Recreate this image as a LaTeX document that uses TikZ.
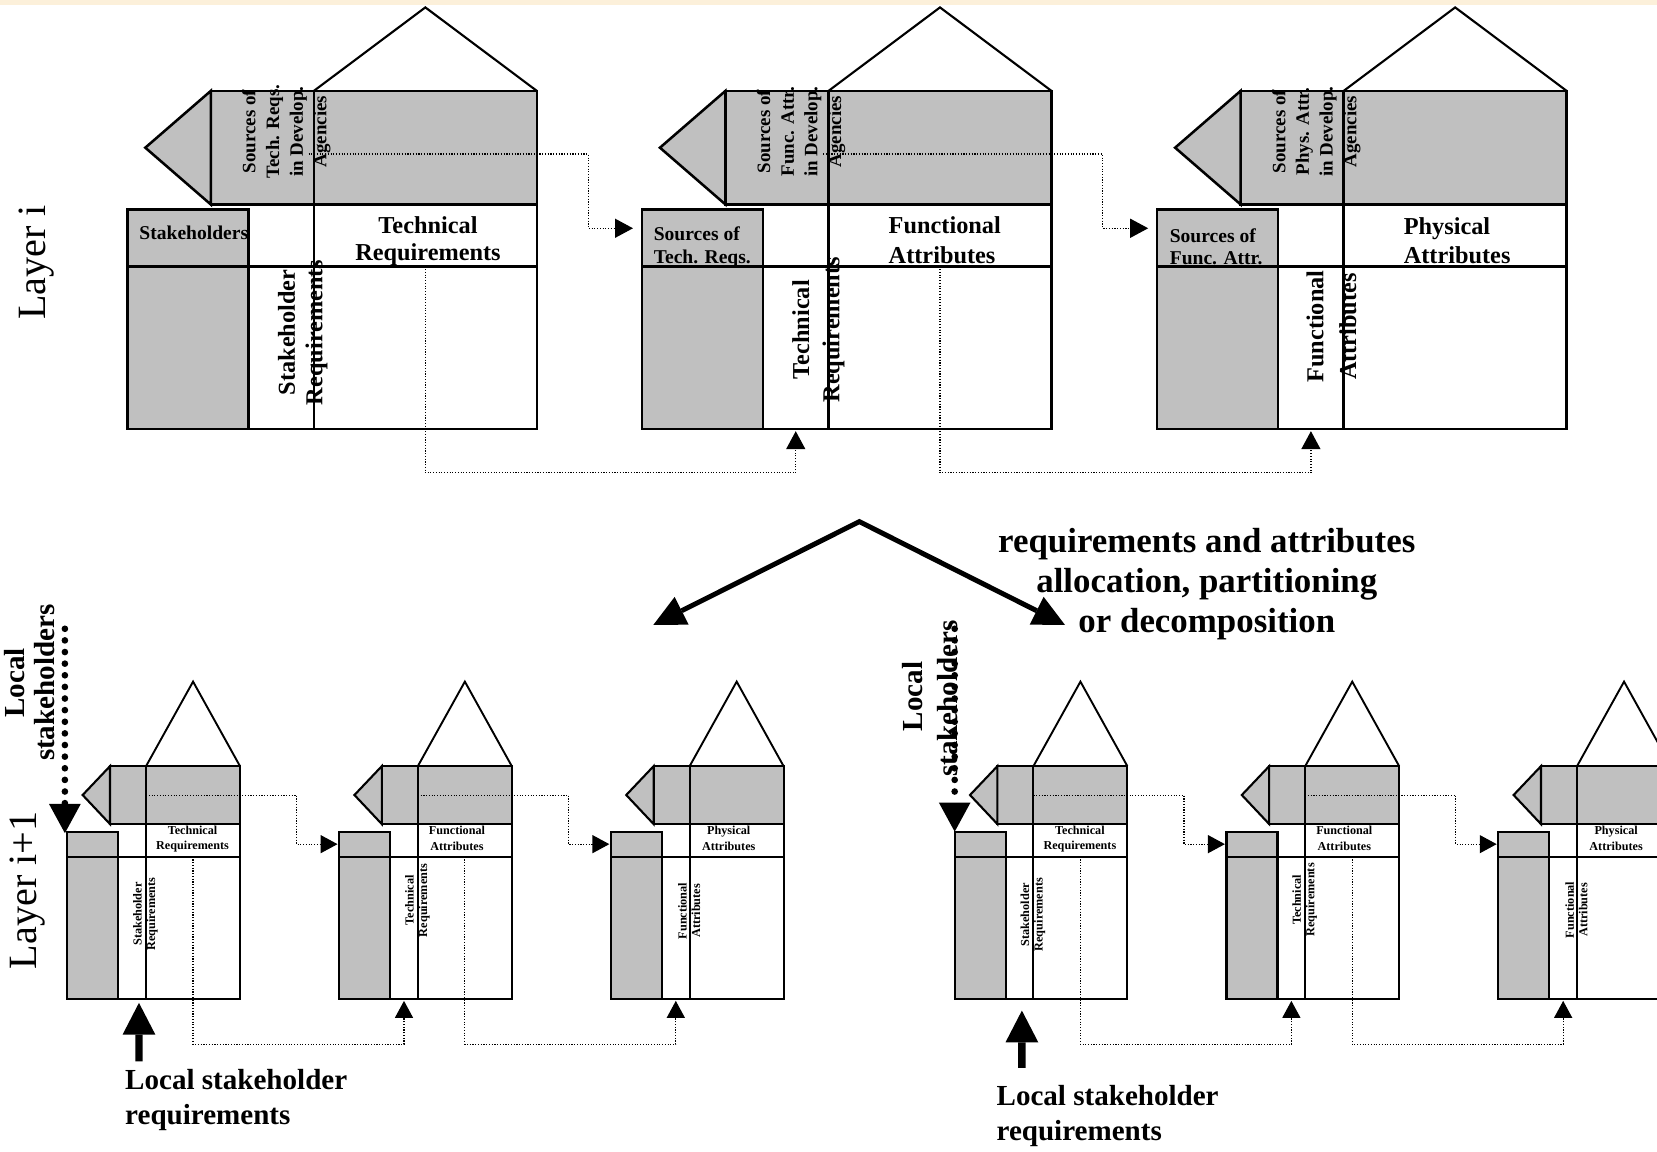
\documentclass[tikz,border=0pt]{standalone}
\usepackage{fontspec}
\setmainfont{Liberation Serif}
\usetikzlibrary{arrows.meta}

\definecolor{boxgrey}{RGB}{192,192,192}
\definecolor{topcream}{RGB}{252,240,218}

\begin{document}
\begin{tikzpicture}[x=1pt, y=-1pt,
      cell/.style={draw, inner sep=0pt, outer sep=0pt, anchor=north west},
      bigcell/.style={cell, line width=2.4pt},
      smallcell/.style={cell, line width=2pt},
      grey/.style={fill=boxgrey},
      roof/.style={line width=2pt, line join=miter},
      dotarr/.style={line width=1.1pt, dash pattern=on 1.1pt off 1.5pt,
                     -{Triangle[length=17pt, width=18pt]}},
      sdotarr/.style={line width=1.1pt, dash pattern=on 1.1pt off 1.5pt,
                      -{Triangle[length=16pt, width=17pt]}},
      bigarr/.style={line width=4.7pt, line join=miter,
                     {Triangle[length=30pt, width=29.4pt, line width=0pt]}-{Triangle[length=30pt, width=29.4pt, line width=0pt]}},
      fatarr/.style={line width=7pt, -{Triangle[length=30pt, width=31pt, line width=0pt]}},
      dotsarr/.style={line width=6.3pt, line cap=round, dash pattern=on 0pt off 11pt,
                      -{Triangle[length=27.6pt, width=30pt, line width=0pt]}},
      srctext/.style={rotate=90, align=center, inner sep=0pt,
                      font=\bfseries\fontsize{17.9}{22.4}\selectfont},
      boxtext/.style={align=left, inner sep=0pt,
                      font=\bfseries\fontsize{18.5}{21.5}\selectfont},
      headtext/.style={inner sep=0pt, font=\bfseries\fontsize{23}{25.5}\selectfont},
      coltext/.style={rotate=90, align=center, inner sep=0pt,
                      font=\bfseries\fontsize{23}{26}\selectfont},
      shead/.style={align=center, inner sep=0pt,
                    font=\bfseries\fontsize{11.5}{14.8}\selectfont},
      scol/.style={rotate=90, align=center, inner sep=0pt,
                   font=\bfseries\fontsize{11.6}{12.8}\selectfont},
      layertext/.style={rotate=90, anchor=base, inner sep=0pt,
                        font=\fontsize{38}{40}\selectfont},
      localtext/.style={inner sep=0pt, font=\bfseries\fontsize{27.5}{33}\selectfont},
      splittext/.style={align=center, inner sep=0pt,
                        font=\bfseries\fontsize{33}{38}\selectfont},
      bighouse/.pic={
        \draw[roof] (176.5,86) -- (282,7) -- (387.5,86);
        \node[bigcell, grey, minimum width=211pt, minimum height=107.5pt] (-band) at (176.5,86) {};
        \node[bigcell, grey, minimum width=97.5pt, minimum height=107.5pt] (-src) at (79,86) {};
        \filldraw[line width=2.4pt, fill=boxgrey] (79,86) -- (17,139.75) -- (79,193.5) -- cycle;
        \node[bigcell, grey, minimum width=114.5pt, minimum height=54pt] (-left) at (0,198) {};
        \node[bigcell, minimum width=211pt, minimum height=58.5pt] (-head) at (176.5,193.5) {};
        \node[bigcell, grey, minimum width=114.5pt, minimum height=154pt] (-low) at (0,252) {};
        \node[bigcell, minimum width=62pt, minimum height=154pt] (-col) at (114.5,252) {};
        \node[bigcell, minimum width=211pt, minimum height=154pt] (-main) at (176.5,252) {};
      },
      smallhouse/.pic={
        \draw[roof, line width=1.8pt] (74.5,725) -- (119,645) -- (163.4,725);
        \node[smallcell, grey, minimum width=88.9pt, minimum height=54.8pt] (-band) at (74.5,725) {};
        \node[smallcell, grey, minimum width=34.1pt, minimum height=54.8pt] (-src) at (40.4,725) {};
        \filldraw[line width=2pt, fill=boxgrey] (40.4,725) -- (14.5,752.3) -- (40.4,779.8) -- cycle;
        \node[smallcell, grey, minimum width=48.3pt, minimum height=23.6pt] (-left) at (0,787) {};
        \node[smallcell, minimum width=88.9pt, minimum height=30.9pt] (-head) at (74.5,779.8) {};
        \node[smallcell, grey, minimum width=48.3pt, minimum height=135pt] (-low) at (0,810.6) {};
        \node[smallcell, minimum width=26.2pt, minimum height=135pt] (-col) at (48.3,810.6) {};
        \node[smallcell, minimum width=88.9pt, minimum height=135pt] (-main) at (74.5,810.6) {};
      }
    ]

    %% ---- page ----
    \useasboundingbox (0,0) rectangle (1568,1090);
    \fill[white] (0,0) rectangle (1568,1090);
    \fill[topcream] (0,0) rectangle (1568,5);
    \clip (0,0) rectangle (1568,1090);

    %% ---- layer i ----
    \pic (h1) at (120.5,0) {bighouse};
    \pic (h2) at (607.5,0) {bighouse};
    \pic (h3) at (1095,0) {bighouse};

    \node[layertext] (layer1) at (42.6,248.4) {Layer i};

    \node[srctext] (h1srctxt) at (271,124.5) {Sources of\\Tech. Reqs.\\in Develop.\\Agencies};
    \node[srctext] (h2srctxt) at (758,124.5) {Sources of\\Func. Attr.\\in Develop.\\Agencies};
    \node[srctext] (h3srctxt) at (1245.5,124.5) {Sources of\\Phys. Attr.\\in Develop.\\Agencies};

    \node[boxtext, anchor=base west] (h1lefttxt) at (131.8,226.5) {Stakeholders};
    \node[boxtext, anchor=north west] (h2lefttxt) at (618.5,214.4) {Sources of\\Tech. Reqs.};
    \node[boxtext, anchor=north west] (h3lefttxt) at (1106.8,216) {Sources of\\Func. Attr.};

    \node[headtext, align=center, anchor=north] (h1headtxt) at (405,204.5) {Technical\\Requirements};
    \node[headtext, align=left, anchor=north west, font=\bfseries\fontsize{23}{28.4}\selectfont]
          (h2headtxt) at (840.8,204.5) {Functional\\Attributes};
    \node[headtext, align=left, anchor=north west, font=\bfseries\fontsize{23}{27}\selectfont]
          (h3headtxt) at (1328.2,206) {Physical\\Attributes};

    \node[coltext] (h1coltxt) at (286.5,314.5) {Stakeholder\\Requirements};
    \node[coltext, font=\bfseries\fontsize{23}{28.7}\selectfont] (h2coltxt) at (774.4,312) {Technical\\Requirements};
    \node[coltext, font=\bfseries\fontsize{23}{31}\selectfont] (h3coltxt) at (1260,309) {Functional\\Attributes};

    %% sources -> next house, requirements -> next column
    \draw[dotarr, shorten >=8.5pt] ([shift={(-5,6)}]h1-band.west) -- ++(264.5,0) |- ([yshift=9pt]h2-left.west);
    \draw[dotarr, shorten >=8.5pt] ([shift={(-5,6)}]h2-band.west) -- ++(264.5,0) |- ([yshift=9pt]h3-left.west);
    \draw[dotarr, shorten >=2pt] (h1-head.south) -- ++(0,195.5) -| (h2-col.south);
    \draw[dotarr, shorten >=2pt] (h2-head.south) -- ++(0,195.5) -| (h3-col.south);

    %% ---- allocation arrows ----
    \coordinate (split) at (813.2,493.6);
    \coordinate (splitL) at (618.2,591.4);
    \coordinate (splitR) at (1007.8,591.4);
    \draw[bigarr] (splitL) -- (split) -- (splitR);
    \node[splittext] (splittxt) at (1142,553)
          {requirements and attributes\\allocation, partitioning\\or decomposition};

    %% ---- layer i+1 ----
    \pic (s1) at (63.7,0) {smallhouse};
    \pic (s2) at (320.9,0) {smallhouse};
    \pic (s3) at (578.1,0) {smallhouse};
    \pic (s4) at (903.4,0) {smallhouse};
    \pic (s5) at (1160.6,0) {smallhouse};
    \pic (s6) at (1417.8,0) {smallhouse};

    \node[layertext] (layer2) at (34.5,842.5) {Layer i+1};

    \node[shead] (s1headtxt) at (182.2,794) {Technical\\Requirements};
    \node[shead] (s2headtxt) at (432.4,793.5) {Functional\\Attributes};
    \node[shead] (s3headtxt) at (689.6,793.5) {Physical\\Attributes};
    \node[shead] (s4headtxt) at (1021.9,794) {Technical\\Requirements};
    \node[shead] (s5headtxt) at (1272.1,793.5) {Functional\\Attributes};
    \node[shead] (s6headtxt) at (1529.3,793.5) {Physical\\Attributes};

    \node[scol] (s1coltxt) at (137.7,865) {Stakeholder\\Requirements};
    \node[scol] (s2coltxt) at (394.9,852) {Technical\\Requirements};
    \node[scol] (s3coltxt) at (652.1,862) {Functional\\Attributes};
    \node[scol] (s4coltxt) at (977.4,865.5) {Stakeholder\\Requirements};
    \node[scol] (s5coltxt) at (1234.6,851.5) {Technical\\Requirements};
    \node[scol] (s6coltxt) at (1491.8,861) {Functional\\Attributes};

    %% house to house inside each group
    \draw[sdotarr, shorten >=1.5pt] (s1-band.west) -- ++(142.5,0) |- (s2-left.west);
    \draw[sdotarr, shorten >=1.5pt] (s2-band.west) -- ++(142.5,0) |- (s3-left.west);
    \draw[sdotarr, shorten >=1.5pt] (s4-band.west) -- ++(142.5,0) |- (s5-left.west);
    \draw[sdotarr, shorten >=1.5pt] (s5-band.west) -- ++(142.5,0) |- (s6-left.west);
    \draw[sdotarr, shorten >=1.5pt] (s1-head.south) -- ++(0,177.4) -| (s2-col.south);
    \draw[sdotarr, shorten >=1.5pt] (s2-head.south) -- ++(0,177.4) -| (s3-col.south);
    \draw[sdotarr, shorten >=1.5pt] (s4-head.south) -- ++(0,177.4) -| (s5-col.south);
    \draw[sdotarr, shorten >=1.5pt] (s5-head.south) -- ++(0,177.4) -| (s6-col.south);

    %% local stakeholders (left group)
    \node[localtext, rotate=90, anchor=base] (loc1a) at (23.5,646) {Local};
    \node[localtext, rotate=90, anchor=base] (loc1b) at (51.5,646) {stakeholders};
    \coordinate (ls1) at (61.4,595);
    \draw[dotsarr] (ls1) -- ([xshift=-2.3pt, yshift=-1.4pt]s1-left.north west);
    \coordinate (lsr1) at (131.5,1004.3);
    \draw[fatarr] (lsr1) -- ([xshift=6.4pt, yshift=-3.4pt]s1-col.south);
    \node[localtext, align=left, anchor=north west] (lsr1txt) at (118.3,1012)
          {Local stakeholder\\requirements};

    %% local stakeholders (right group)
    \node[localtext, rotate=90, anchor=base] (loc2a) at (872.9,659) {Local};
    \node[localtext, rotate=90, anchor=base] (loc2b) at (906.5,661) {stakeholders};
    \coordinate (ls2) at (903.4,595);
    \draw[dotsarr] (ls2) -- (s4-left.north west);
    \coordinate (lsr2) at (967,1010.6);
    \draw[fatarr] (lsr2) -- ([xshift=2.2pt, yshift=-10.7pt]s4-col.south);
    \node[localtext, align=left, anchor=north west] (lsr2txt) at (942.9,1027)
          {Local stakeholder\\requirements};

  \end{tikzpicture}
\end{document}
